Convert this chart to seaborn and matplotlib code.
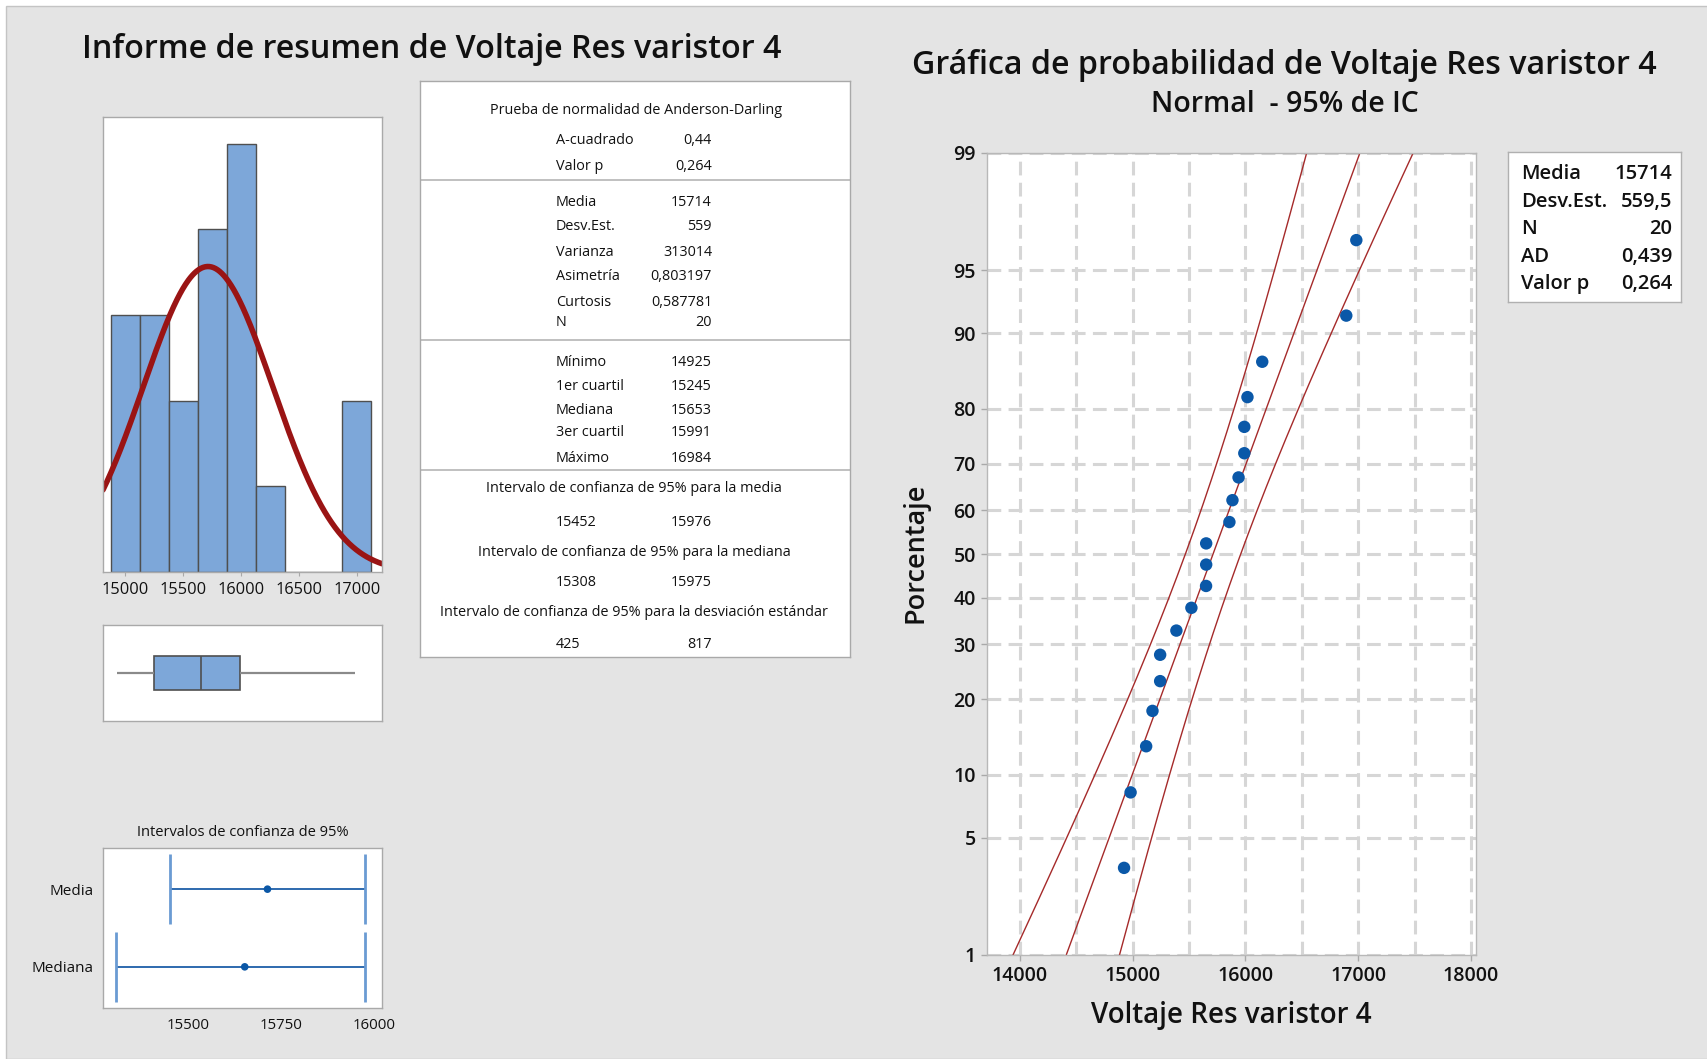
import numpy as np
import seaborn as sns
import matplotlib
matplotlib.use("Agg")
import matplotlib.pyplot as plt
from matplotlib.patches import Rectangle
from statistics import NormalDist

# ---- data -------------------------------------------------------------
voltaje = [14925, 14983, 15121, 15177, 15245, 15245, 15389, 15522, 15652, 15653,
           15653, 15859, 15886, 15940, 15991, 15991, 16019, 16150, 16895, 16984]
media = 15714
desv_est = 559.5

hist_edges = [14875, 15125, 15375, 15625, 15875, 16125, 16375, 16625, 16875, 17125]
hist_ticks = [15000, 15500, 16000, 16500, 17000]

ad_labels = ["A-cuadrado", "Valor p"]
ad_values = ["0,44", "0,264"]
desc_labels = ["Media", "Desv.Est.", "Varianza", "Asimetría", "Curtosis", "N"]
desc_values = ["15714", "559", "313014", "0,803197", "0,587781", "20"]
quart_labels = ["Mínimo", "1er cuartil", "Mediana", "3er cuartil", "Máximo"]
quart_values = ["14925", "15245", "15653", "15991", "16984"]
ci_titles = ["Intervalo de confianza de 95% para la media",
             "Intervalo de confianza de 95% para la mediana",
             "Intervalo de confianza de 95% para la desviación estándar"]
ci_low_txt = ["15452", "15308", "425"]
ci_high_txt = ["15976", "15975", "817"]

ci_names = ["Media", "Mediana"]
ci_center = [15714, 15653]
ci_lower = [15452, 15308]
ci_upper = [15976, 15975]
ci_ticks = [15500, 15750, 16000]

legend_labels = ["Media", "Desv.Est.", "N", "AD", "Valor p"]
legend_values = ["15714", "559,5", "20", "0,439", "0,264"]
prob_pct_ticks = [1, 5, 10, 20, 30, 40, 50, 60, 70, 80, 90, 95, 99]
prob_xticks = [14000, 15000, 16000, 17000, 18000]

# ---- figure setup -----------------------------------------------------
sns.set_theme(style="white")
plt.rcParams["font.family"] = ["Open Sans", "DejaVu Sans"]
W, H = 1707, 1059
fig = plt.figure(figsize=(W / 100, H / 100), dpi=100)
fig.patch.set_facecolor("white")
fig.patches.append(Rectangle((6 / W, 0), 1, 1 - 6 / H, transform=fig.transFigure,
                             facecolor="#e4e4e4", edgecolor="#c4c4c4", lw=1, zorder=-10))

BLUE = "#7DA7D9"
TXT = "#111111"
SPINE = "#a9a9a9"


def rect(x0, y0, x1, y1):
    return [x0 / W, 1 - y1 / H, (x1 - x0) / W, (y1 - y0) / H]


def ftext(x, y, s, **kw):
    fig.text(x / W, 1 - y / H, s, **kw)


def style_spines(ax, color=SPINE):
    for sp in ax.spines.values():
        sp.set_visible(True)
        sp.set_color(color)
        sp.set_linewidth(1.0)


# ---- titles -----------------------------------------------------------
ftext(432, 49, "Informe de resumen de Voltaje Res varistor 4", ha="center", va="center",
      fontsize=23.2, fontweight="semibold", color=TXT)
ftext(1284, 65, "Gráfica de probabilidad de Voltaje Res varistor 4", ha="center", va="center",
      fontsize=23.2, fontweight="semibold", color=TXT)
ftext(1285, 105, "Normal  - 95% de IC", ha="center", va="center",
      fontsize=20.5, fontweight="semibold", color=TXT)

# ---- histogram with fitted normal curve --------------------------------
ax_h = fig.add_axes(rect(103, 117, 382, 572))
ax_h.set_facecolor("white")
sns.histplot(x=voltaje, bins=hist_edges, ax=ax_h, color=BLUE, edgecolor="#4f4f4f",
             linewidth=1.0, alpha=1)
bw = hist_edges[1] - hist_edges[0]
xs = np.linspace(14807, 17217, 400)
pdf = np.array([NormalDist(media, desv_est).pdf(v) for v in xs]) * len(voltaje) * bw
sns.lineplot(x=xs, y=pdf, ax=ax_h, color="#9A1414", linewidth=4)
ax_h.set_xlim(14807, 17217)
ax_h.set_ylim(0, 5.31)
ax_h.set_xticks(hist_ticks)
ax_h.set_xticklabels([str(t) for t in hist_ticks], fontsize=11.8, color=TXT)
ax_h.set_yticks([])
ax_h.set_xlabel("")
ax_h.set_ylabel("")
ax_h.tick_params(axis="x", length=3, width=0.8, color=SPINE, pad=4, bottom=True)
style_spines(ax_h)

# ---- boxplot ----------------------------------------------------------
ax_b = fig.add_axes(rect(103, 625, 382, 721))
ax_b.set_facecolor("white")
sns.boxplot(x=voltaje, ax=ax_b, color=BLUE, linecolor="#4f4f4f", linewidth=1.2,
            width=0.345, saturation=1, showcaps=False, fliersize=0,
            whiskerprops=dict(color="#8a8a8a", linewidth=1.6))
ax_b.set_xlim(14807, 17217)
ax_b.set_ylim(0.5, -0.5)
ax_b.set_xticks([])
ax_b.set_yticks([])
ax_b.set_xlabel("")
style_spines(ax_b)

# ---- confidence intervals ---------------------------------------------
ax_c = fig.add_axes(rect(103, 848, 382, 1008))
ax_c.set_facecolor("white")
rows = np.arange(len(ci_names))
ax_c.hlines(rows, ci_lower, ci_upper, color="#1d5ea8", linewidth=1.3)
ax_c.vlines(ci_lower, rows - 0.45, rows + 0.45, color="#6a9bd3", linewidth=2)
ax_c.vlines(ci_upper, rows - 0.45, rows + 0.45, color="#6a9bd3", linewidth=2)
sns.scatterplot(x=ci_center, y=rows, ax=ax_c, color="#0b57a6", s=30, edgecolor="none",
                zorder=3)
ax_c.set_xlim(15273, 16021)
ax_c.set_ylim(1.53, -0.53)
ax_c.set_xticks(ci_ticks)
ax_c.set_xticklabels([str(t) for t in ci_ticks], fontsize=10.8, color=TXT)
ax_c.set_yticks(rows)
ax_c.set_yticklabels(ci_names, fontsize=11, color=TXT)
ax_c.tick_params(length=0, pad=7)
ax_c.set_xlabel("")
ax_c.set_ylabel("")
style_spines(ax_c)
ftext(243, 832, "Intervalos de confianza de 95%", ha="center", va="center",
      fontsize=10.5, color=TXT)

# ---- summary statistics table ------------------------------------------
ax_t = fig.add_axes(rect(420, 81, 850, 657))
ax_t.set_facecolor("white")
ax_t.set_xlim(420, 850)
ax_t.set_ylim(657, 81)
ax_t.set_xticks([])
ax_t.set_yticks([])
style_spines(ax_t)
for ysep in [180, 340, 470]:
    ax_t.axhline(ysep, color="#b5b5b5", linewidth=1.2)

tfs = 10.4
LX, RX = 556, 712


def row(y, lab, val):
    ax_t.text(LX, y, lab, ha="left", va="center", fontsize=tfs, color=TXT)
    ax_t.text(RX, y, val, ha="right", va="center", fontsize=tfs, color=TXT)


ax_t.text(636, 111, "Prueba de normalidad de Anderson-Darling", ha="center", va="center",
          fontsize=tfs, color=TXT)
for y, lab, val in zip([141, 166], ad_labels, ad_values):
    row(y, lab, val)
for y, lab, val in zip([202, 227, 252, 277, 302, 323], desc_labels, desc_values):
    row(y, lab, val)
for y, lab, val in zip([362, 387, 411, 433, 458], quart_labels, quart_values):
    row(y, lab, val)
for yt, yv, t, lo, hi in zip([489, 553, 613], [522, 582, 644], ci_titles, ci_low_txt, ci_high_txt):
    ax_t.text(634, yt, t, ha="center", va="center", fontsize=tfs, color=TXT)
    row(yv, lo, hi)

# ---- normal probability plot -------------------------------------------
nd = NormalDist()
n = len(voltaje)
z_pts = [nd.inv_cdf((i - 0.3) / (n + 0.4)) for i in range(1, n + 1)]
z_lo, z_hi = nd.inv_cdf(0.01), nd.inv_cdf(0.99)
zz = np.linspace(z_lo, z_hi, 200)
fit = media + zz * desv_est
se = desv_est / np.sqrt(n) * np.sqrt(1 + zz ** 2 / 2)

ax_p = fig.add_axes(rect(987, 153, 1476, 955))
ax_p.set_facecolor("white")
for xline in [fit - 1.96 * se, fit, fit + 1.96 * se]:
    sns.lineplot(x=xline, y=zz, ax=ax_p, color="#a52a2a", linewidth=1.0, sort=False)
sns.scatterplot(x=sorted(voltaje), y=z_pts, ax=ax_p, color="#0a58a8", s=80,
                edgecolor="none", zorder=4)
ax_p.set_xlim(13710, 18045)
ax_p.set_ylim(z_lo, z_hi)
ax_p.set_xticks(prob_xticks)
ax_p.set_xticks(np.arange(14500, 18000, 1000), minor=True)
ax_p.set_xticklabels([str(t) for t in prob_xticks], fontsize=14, fontweight="semibold", color=TXT)
ax_p.set_yticks([nd.inv_cdf(p / 100) for p in prob_pct_ticks])
ax_p.set_yticklabels([str(p) for p in prob_pct_ticks], fontsize=14, fontweight="semibold",
                     color=TXT)
ax_p.tick_params(which="major", length=4, width=1, color=SPINE, pad=4, left=True, bottom=True)
ax_p.tick_params(which="minor", length=0)
ax_p.grid(True, which="both", color="#d6d6d6", linewidth=2.2, linestyle=(0, (4.5, 2.4)))
ax_p.set_axisbelow(True)
ax_p.set_xlabel("")
ax_p.set_ylabel("")
style_spines(ax_p, "#b8b8b8")
ftext(915, 553, "Porcentaje", rotation=90, ha="center", va="center",
      fontsize=19.5, fontweight="semibold", color=TXT)
ftext(1231, 1016, "Voltaje Res varistor 4", ha="center", va="center",
      fontsize=20, fontweight="semibold", color=TXT)

# ---- statistics box of the probability plot ----------------------------
ax_l = fig.add_axes(rect(1508, 152, 1681, 302))
ax_l.set_facecolor("white")
ax_l.set_xlim(1508, 1681)
ax_l.set_ylim(302, 152)
ax_l.set_xticks([])
ax_l.set_yticks([])
style_spines(ax_l, "#b0b0b0")
for y, lab, val in zip([174, 202, 229, 257, 284], legend_labels, legend_values):
    ax_l.text(1521, y, lab, ha="left", va="center", fontsize=14.5, fontweight="semibold", color=TXT)
    ax_l.text(1672, y, val, ha="right", va="center", fontsize=14.5, fontweight="semibold", color=TXT)

fig.savefig("out.png", dpi=100, facecolor=fig.get_facecolor())
